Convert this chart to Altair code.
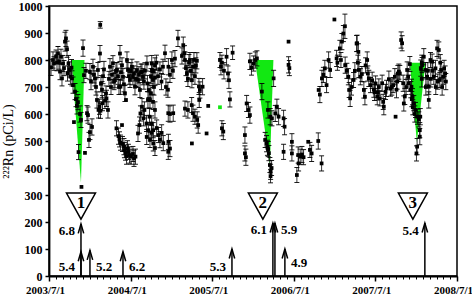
import altair as alt
import pandas as pd

# ---- observations: (decimal year, 222Rn pCi/L, error half-width; 0 = no bar) ----
seg_a = [(2003.525, 773, 30), (2003.549, 800, 30), (2003.561, 787, 25), (2003.586, 812, 25),
         (2003.598, 790, 30), (2003.610, 825, 25), (2003.623, 794, 28), (2003.635, 757, 30),
         (2003.647, 812, 28), (2003.659, 732, 28), (2003.672, 787, 30), (2003.684, 770, 28),
         (2003.696, 868, 35), (2003.708, 880, 30), (2003.721, 840, 30), (2003.727, 750, 28),
         (2003.739, 787, 30), (2003.751, 765, 28), (2003.763, 738, 28), (2003.776, 772, 30)]
seg_b = [(2003.782, 732, 28), (2003.794, 707, 30), (2003.806, 570, 0), (2003.819, 683, 30),
         (2003.831, 655, 28), (2003.843, 630, 30), (2003.855, 644, 28), (2003.862, 459, 28),
         (2003.880, 600, 30), (2003.892, 578, 28), (2003.898, 330, 0), (2003.917, 844, 30),
         (2003.929, 744, 28), (2003.941, 456, 0), (2003.953, 760, 28), (2003.966, 603, 28),
         (2003.978, 596, 30), (2003.990, 504, 28), (2004.002, 533, 28), (2004.027, 552, 30)]
seg_c = [(2004.002, 757, 30), (2004.015, 720, 30), (2004.039, 775, 28), (2004.051, 745, 30),
         (2004.064, 732, 28), (2004.076, 700, 30), (2004.088, 652, 30), (2004.100, 763, 28),
         (2004.107, 615, 30), (2004.119, 627, 28), (2004.125, 824, 30), (2004.128, 930, 12),
         (2004.131, 612, 28),
         (2004.137, 712, 30), (2004.150, 690, 30), (2004.156, 640, 28), (2004.162, 740, 28),
         (2004.174, 765, 30), (2004.186, 650, 30), (2004.199, 676, 28), (2004.205, 658, 30),
         (2004.223, 615, 30), (2004.235, 730, 28), (2004.248, 775, 30), (2004.260, 700, 28),
         (2004.272, 745, 30), (2004.284, 788, 28), (2004.297, 720, 30), (2004.309, 725, 28),
         (2004.321, 760, 30), (2004.333, 763, 28), (2004.346, 740, 30), (2004.358, 700, 28),
         (2004.370, 824, 30), (2004.376, 701, 28), (2004.382, 755, 30), (2004.395, 780, 28),
         (2004.407, 738, 30), (2004.419, 710, 28), (2004.431, 676, 30), (2004.444, 652, 0),
         (2004.456, 800, 30), (2004.468, 763, 28), (2004.480, 740, 30), (2004.493, 726, 28),
         (2004.505, 760, 30), (2004.517, 775, 28), (2004.529, 738, 30), (2004.542, 750, 28),
         (2004.554, 701, 30), (2004.566, 730, 28), (2004.578, 763, 30), (2004.591, 726, 28),
         (2004.603, 745, 30), (2004.615, 689, 28), (2004.627, 755, 30), (2004.640, 757, 28),
         (2004.652, 738, 30), (2004.664, 720, 28), (2004.676, 760, 30), (2004.701, 787, 28),
         (2004.707, 713, 30), (2004.725, 689, 28), (2004.738, 652, 30), (2004.750, 740, 28),
         (2004.762, 763, 30), (2004.774, 726, 28), (2004.787, 700, 30), (2004.799, 780, 28)]
seg_d = [(2004.327, 547, 28), (2004.352, 518, 30), (2004.364, 506, 28), (2004.376, 494, 28),
         (2004.395, 559, 0), (2004.401, 489, 28), (2004.419, 479, 30), (2004.425, 466, 28),
         (2004.438, 457, 28), (2004.450, 444, 30), (2004.462, 473, 28), (2004.474, 460, 28),
         (2004.487, 448, 30), (2004.505, 442, 28), (2004.529, 452, 28), (2004.542, 436, 30),
         (2004.560, 442, 28), (2004.591, 528, 30), (2004.609, 559, 30), (2004.621, 602, 28),
         (2004.640, 627, 30), (2004.658, 584, 28), (2004.670, 615, 30), (2004.695, 565, 30),
         (2004.698, 515, 28), (2004.713, 652, 30), (2004.718, 540, 28), (2004.732, 590, 30),
         (2004.738, 504, 28), (2004.750, 676, 30), (2004.759, 530, 28), (2004.799, 474, 28),
         (2004.820, 548, 30), (2004.881, 530, 30), (2004.901, 492, 28), (2004.962, 460, 28),
         (2004.962, 603, 30), (2005.023, 603, 30), (2004.759, 565, 28), (2004.778, 540, 28),
         (2004.843, 522, 28), (2004.860, 505, 30), (2004.778, 491, 28), (2004.964, 497, 28),
         (2004.983, 472, 30)]
seg_e = [(2004.759, 787, 30), (2004.775, 760, 28), (2004.799, 735, 30), (2004.817, 790, 28),
         (2004.836, 740, 30), (2004.860, 765, 28), (2004.879, 720, 30), (2004.897, 775, 28),
         (2004.922, 825, 30), (2004.934, 700, 30), (2004.958, 690, 28), (2004.964, 775, 30),
         (2004.983, 745, 28), (2005.007, 800, 30), (2005.019, 760, 28), (2005.044, 805, 30),
         (2005.081, 880, 30), (2005.130, 815, 30), (2005.146, 855, 30), (2005.161, 825, 28),
         (2005.167, 800, 30), (2005.179, 770, 28), (2005.191, 750, 30), (2005.203, 730, 28),
         (2005.216, 790, 30), (2005.228, 800, 28), (2005.240, 760, 30), (2005.252, 725, 28),
         (2005.265, 775, 30), (2005.277, 800, 28), (2005.289, 740, 30), (2005.301, 780, 28),
         (2005.313, 797, 30), (2005.338, 702, 30), (2005.383, 701, 30), (2005.596, 800, 28),
         (2005.608, 775, 30), (2005.620, 790, 28), (2005.645, 760, 30), (2005.677, 812, 30),
         (2005.694, 750, 28), (2005.706, 725, 30), (2005.751, 827, 25), (2005.963, 795, 30),
         (2005.982, 772, 28),
         (2004.775, 645, 28), (2004.799, 615, 30), (2004.983, 600, 30), (2005.167, 620, 28),
         (2005.203, 615, 30), (2005.249, 633, 28), (2005.265, 603, 30), (2005.289, 590, 28),
         (2005.317, 578, 30), (2005.329, 559, 30), (2005.342, 652, 28), (2005.350, 689, 30),
         (2005.452, 630, 0), (2005.718, 654, 28), (2005.923, 639, 30), (2005.945, 615, 28),
         (2005.963, 596, 30), (2005.252, 491, 0), (2005.432, 528, 0), (2005.620, 547, 28),
         (2005.637, 535, 30), (2005.902, 522, 30), (2005.902, 454, 28), (2005.914, 440, 30)]
seg_f = [(2006.009, 787, 28), (2006.029, 800, 30), (2006.049, 806, 28), (2006.110, 683, 30),
         (2006.150, 504, 28), (2006.167, 490, 30), (2006.178, 475, 28), (2006.184, 615, 30),
         (2006.187, 470, 28), (2006.196, 455, 28), (2006.208, 411, 28), (2006.212, 590, 30),
         (2006.216, 370, 25), (2006.217, 386, 28), (2006.229, 400, 28), (2006.233, 584, 28),
         (2006.254, 732, 30), (2006.274, 602, 30), (2006.294, 627, 28), (2006.315, 590, 30),
         (2006.376, 584, 30), (2006.376, 460, 28), (2006.388, 553, 30), (2006.437, 868, 0),
         (2006.437, 782, 30), (2006.447, 770, 28), (2006.478, 497, 30), (2006.478, 454, 28),
         (2006.539, 374, 28), (2006.555, 448, 30), (2006.560, 417, 28), (2006.580, 442, 28),
         (2006.601, 450, 30), (2006.621, 440, 28), (2006.678, 497, 0), (2006.699, 467, 28),
         (2006.720, 454, 30), (2006.801, 500, 30), (2006.842, 417, 28)]
seg_g = [(2006.806, 689, 0), (2006.821, 672, 30), (2006.846, 732, 30), (2006.864, 745, 28),
         (2006.882, 769, 30), (2006.903, 707, 28), (2006.928, 800, 30), (2006.947, 763, 28),
         (2006.999, 950, 0), (2007.026, 806, 30), (2007.036, 790, 28), (2007.066, 843, 30),
         (2007.079, 800, 28), (2007.091, 868, 30), (2007.109, 898, 30), (2007.128, 925, 45),
         (2007.131, 781, 30), (2007.152, 760, 28), (2007.170, 738, 30), (2007.180, 689, 28),
         (2007.192, 658, 30), (2007.209, 700, 30), (2007.234, 726, 28), (2007.250, 760, 30),
         (2007.271, 861, 30)]
seg_h = [(2007.278, 862, 30), (2007.287, 790, 28), (2007.293, 830, 30), (2007.299, 763, 28),
         (2007.317, 738, 30), (2007.336, 748, 28), (2007.360, 689, 30), (2007.373, 664, 30),
         (2007.381, 780, 28), (2007.401, 800, 30), (2007.409, 750, 28), (2007.421, 732, 30),
         (2007.442, 707, 28), (2007.462, 725, 30), (2007.483, 690, 28), (2007.491, 680, 30),
         (2007.504, 713, 28), (2007.524, 664, 30), (2007.532, 680, 28), (2007.544, 700, 30),
         (2007.556, 658, 28), (2007.584, 714, 30), (2007.597, 645, 28), (2007.605, 627, 30),
         (2007.626, 682, 28), (2007.638, 695, 30), (2007.667, 729, 30), (2007.687, 694, 28),
         (2007.703, 700, 30), (2007.719, 707, 28), (2007.740, 738, 30), (2007.749, 590, 0),
         (2007.760, 690, 30), (2007.768, 720, 28), (2007.777, 750, 30), (2007.789, 757, 28),
         (2007.801, 750, 30), (2007.817, 874, 30), (2007.829, 862, 28), (2007.842, 714, 30),
         (2007.850, 639, 28), (2007.862, 665, 30), (2007.878, 700, 28), (2007.891, 763, 30),
         (2007.903, 738, 28), (2007.911, 714, 30)]
seg_i = [(2007.924, 785, 28), (2007.936, 690, 30), (2007.944, 701, 28), (2007.948, 655, 28),
         (2007.956, 664, 30), (2007.960, 625, 28), (2007.972, 640, 28), (2007.985, 600, 30),
         (2007.993, 615, 28), (2008.005, 454, 28), (2008.013, 479, 30), (2008.017, 590, 28),
         (2008.034, 580, 28), (2008.046, 516, 30), (2008.046, 540, 28), (2008.052, 590, 30)]
seg_j = [(2008.058, 770, 30), (2008.070, 790, 28), (2008.070, 730, 30), (2008.074, 781, 28),
         (2008.095, 812, 30), (2008.116, 763, 28), (2008.120, 700, 30), (2008.136, 738, 28),
         (2008.144, 760, 30), (2008.156, 701, 28), (2008.156, 652, 30), (2008.177, 800, 28),
         (2008.181, 730, 30), (2008.197, 794, 28), (2008.205, 760, 30), (2008.218, 738, 28),
         (2008.238, 769, 30), (2008.242, 700, 28), (2008.258, 843, 30), (2008.267, 720, 28),
         (2008.279, 837, 30), (2008.291, 726, 28), (2008.297, 790, 30), (2008.307, 763, 28),
         (2008.320, 700, 30), (2008.332, 738, 28), (2008.344, 769, 30), (2008.357, 750, 28),
         (2008.365, 720, 30)]
green_obs_yr = [2005.596]
green_obs_rn = [625]

# ---- green anomaly wedges ----
wedge_id = [1, 1, 1, 2, 2, 2, 3, 3, 3]
wedge_yr = [2003.776, 2003.892, 2003.935, 2006.025, 2006.208, 2006.251, 2007.924, 2008.010, 2008.114]
wedge_top = [800, 800, 800, 800, 800, 800, 790, 790, 790]
wedge_low = [800, 345, 800, 800, 410, 800, 790, 495, 790]

# ---- earthquakes ----
eq_yr = [2003.892, 2003.892, 2004.002, 2004.407, 2005.743, 2006.245, 2006.270, 2006.392, 2008.108]
eq_mag = ["6.8", "5.4", "5.2", "6.2", "5.3", "6.1", "5.9", "4.9", "5.4"]
eq_len = [193, 90, 95, 90, 100, 196, 196, 100, 196]
eq_lbl_val = [167, 35, 35, 35, 35, 170, 170, 48, 167]
eq_side = ["L", "L", "R", "R", "L", "L", "R", "R", "L"]

# ---- numbered event markers ----
tri_yr = [2003.892, 2006.122, 2007.961]
tri_lbl = ["1", "2", "3"]

y_ticks = [0, 100, 200, 300, 400, 500, 600, 700, 800, 900, 1000]
year_ticks = [alt.DateTime(year=y, month=7, date=1) for y in [2003, 2004, 2005, 2006, 2007, 2008]]
month_ticks = [alt.DateTime(year=y, month=m, date=1)
               for y in range(2003, 2009) for m in range(1, 13)
               if (y, m) >= (2003, 7) and (y, m) <= (2008, 7)]


def to_date(y):
    return pd.Timestamp("2003-07-01") + pd.Timedelta(days=(y - 2003.5) * 365.25)


obs = seg_a + seg_b + seg_c + seg_d + seg_e + seg_f + seg_g + seg_h + seg_i + seg_j
df = pd.DataFrame(obs, columns=["yr", "rn", "err"])
df["date"] = df["yr"].map(to_date)
df["lo"] = df["rn"] - df["err"]
df["hi"] = df["rn"] + df["err"]
df_err = df[df["err"] > 0][["date", "lo", "hi"]]
df_pts = df[["date", "rn"]]

df_green = pd.DataFrame({"date": [to_date(v) for v in green_obs_yr], "rn": green_obs_rn})
df_wedge = pd.DataFrame({"id": wedge_id, "date": [to_date(v) for v in wedge_yr],
                         "top": wedge_top, "low": wedge_low})
df_eq = pd.DataFrame({"date": [to_date(v) for v in eq_yr], "mag": eq_mag, "len": eq_len,
                      "lbl": eq_lbl_val, "side": eq_side, "base": [0] * len(eq_yr)})
df_tri = pd.DataFrame({"date": [to_date(v) for v in tri_yr], "lbl": tri_lbl})

SERIF = "Liberation Serif"
GREEN = "#12e812"

x_scale = alt.Scale(domain=[alt.DateTime(year=2003, month=7, date=1),
                            alt.DateTime(year=2008, month=7, date=1)])
y_scale = alt.Scale(domain=[0, 1000], nice=False)

main_x_axis = alt.Axis(values=year_ticks, format="%Y/%-m/%-d", tickSize=5, labelPadding=3,
                       labelFontSize=11, labelOffset=-4, labelFlush=False,
                       labelOverlap=False, labelBound=False,
                       title=None, orient="bottom", grid=False)
minor_x_axis = alt.Axis(values=month_ticks, labels=False, tickSize=3, domain=False,
                        title=None, orient="bottom", grid=False, tickWidth=1)
y_axis = alt.Axis(values=y_ticks, format="d", title="²²²Rn (pCi/L)", tickSize=4,
                  labelPadding=3, titlePadding=3, grid=False, orient="left")

xn = alt.X("date:T", axis=None)

wedges = alt.Chart(df_wedge).mark_area(color=GREEN, opacity=1).encode(
    x=alt.X("date:T", scale=x_scale, axis=minor_x_axis),
    y=alt.Y("top:Q", scale=y_scale, axis=y_axis),
    y2="low:Q",
    detail="id:N",
)
err_rules = alt.Chart(df_err).mark_rule(color="black", strokeWidth=0.8).encode(
    x=xn, y=alt.Y("lo:Q", axis=y_axis), y2="hi:Q")
cap_lo = alt.Chart(df_err).mark_tick(color="black", orient="horizontal", size=5,
                                     thickness=0.9, opacity=1).encode(
    x=xn, y=alt.Y("lo:Q", axis=y_axis))
cap_hi = alt.Chart(df_err).mark_tick(color="black", orient="horizontal", size=5,
                                     thickness=0.9, opacity=1).encode(
    x=xn, y=alt.Y("hi:Q", axis=y_axis))
points = alt.Chart(df_pts).mark_square(size=14, color="black", opacity=1).encode(
    x=alt.X("date:T", axis=main_x_axis),
    y=alt.Y("rn:Q", axis=y_axis),
)
green_pt = alt.Chart(df_green).mark_square(size=14, color=GREEN, opacity=1).encode(
    x=xn, y=alt.Y("rn:Q", axis=y_axis))

eq_rules = alt.Chart(df_eq).mark_rule(color="black", strokeWidth=1.5).encode(
    x=xn, y=alt.Y("base:Q", axis=y_axis), y2="len:Q")
eq_heads = alt.Chart(df_eq).mark_point(shape="M-0.55,0.9L0,-1L0.55,0.9", size=100,
                                       filled=False, color="black", strokeWidth=1.5,
                                       opacity=1, yOffset=5).encode(
    x=xn, y=alt.Y("len:Q", axis=y_axis))
lbl_left = alt.Chart(df_eq).transform_filter(alt.datum.side == "L").mark_text(
    font=SERIF, fontWeight="bold", fontSize=13, align="right", baseline="middle",
    dx=-6, color="black").encode(x=xn, y=alt.Y("lbl:Q", axis=y_axis), text="mag:N")
lbl_right = alt.Chart(df_eq).transform_filter(alt.datum.side == "R").mark_text(
    font=SERIF, fontWeight="bold", fontSize=13, align="left", baseline="middle",
    dx=6, color="black").encode(x=xn, y=alt.Y("lbl:Q", axis=y_axis), text="mag:N")

tris = alt.Chart(df_tri).mark_point(shape="M-1,-0.9L1,-0.9L0,0.9Z", size=841, filled=True,
                                    fill="white", stroke="black", strokeWidth=1.5,
                                    opacity=1).encode(x=xn, y=alt.datum(259, axis=y_axis))
tri_text = alt.Chart(df_tri).mark_text(font=SERIF, fontWeight="bold", fontSize=17,
                                       baseline="middle", align="center",
                                       color="black").encode(
    x=xn, y=alt.datum(270, axis=y_axis), text="lbl:N")

chart = alt.layer(
    wedges, err_rules, cap_lo, cap_hi, points, green_pt,
    eq_rules, eq_heads, lbl_left, lbl_right, tris, tri_text,
).resolve_axis(x="independent", y="shared").properties(
    width=408, height=270, autosize="none",
    padding={"left": 49, "top": 6, "right": 15, "bottom": 26},
    background="white",
).configure_view(stroke="black", strokeWidth=1.5).configure_axis(
    labelFont=SERIF, labelFontWeight="bold", labelFontSize=12, labelColor="black",
    domainColor="black", domainWidth=1.8, tickColor="black", tickWidth=1.5,
    titleFont=SERIF, titleFontWeight="normal", titleFontSize=14, titleColor="black",
)

chart.save("out.html", embed_options={"renderer": "svg", "actions": False})
